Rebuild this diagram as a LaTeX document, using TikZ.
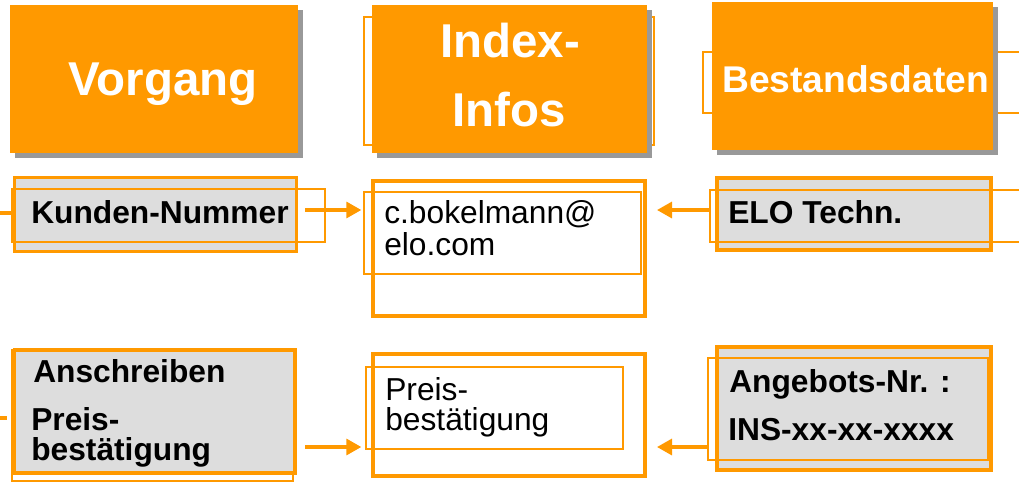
\documentclass[tikz,border=0pt]{standalone}
\usepackage{fontspec}
\setmainfont{Liberation Sans}
\usetikzlibrary{fit,shadows,arrows.meta}
\definecolor{org}{HTML}{FF9900}
\definecolor{boxgray}{HTML}{DDDDDD}
\definecolor{shd}{HTML}{999999}
\begin{document}
\begin{tikzpicture}[x=0.75pt,y=-0.75pt,
  hdr/.style={fill=org, inner sep=0pt, drop shadow={shadow xshift=3.75pt, shadow yshift=-3.75pt, fill=shd, opacity=1}},
  thinbox/.style={draw=org, line width=1pt, inner sep=0pt},
  thickbox/.style={draw=org, line width=2.4pt, inner sep=0pt},
  graybox/.style={thickbox, fill=boxgray},
  hf/.style={inner sep=0pt, anchor=base, text=white, font=\fontsize{35.6}{42}\selectfont\bfseries},
  hfs/.style={inner sep=0pt, anchor=base, text=white, font=\fontsize{27.9}{33}\selectfont\bfseries},
  bt/.style={inner sep=0pt, anchor=base west, font=\fontsize{23.8}{28}\selectfont\bfseries},
  rt/.style={inner sep=0pt, anchor=base west, font=\fontsize{23.8}{28}\selectfont},
  conn/.style={draw=org, line width=2.4pt},
  arr/.style={draw=org, fill=org, line width=2.4pt, -{Triangle[length=11.25pt,width=12pt]}}
]
\useasboundingbox (0,0) rectangle (1019,482);

% ---- headers ----
\node[hdr, fit={(10,5)(298,153)}] (h1) {};
\node[hf] (h1t) at (163,95) {Vorgang};

\node[thinbox, fill=white, fit={(364,17)(654,145)}] (h2o) {};
\node[hdr, fit={(372,5)(647,153)}] (h2) {};
\node[hf] (h2a) at (510,57) {Index-};
\node[hf] (h2b) at (509,126) {Infos};

\node[thinbox, fill=white, fit={(703,52)(1040,113)}] (h3o) {};
\node[hdr, fit={(712,2)(993,150)}] (h3) {};
\node[hfs] (h3t) at (855.5,92) {Bestandsdaten};

% ---- row 1 ----
\node[graybox, fit={(14.5,177.5)(296.5,251.5)}] (kn) {};
\node[thinbox, fit={(12,189)(325,242)}] (kno) {};
\node[bt] (knt) at (31,223) {Kunden-Nummer};

\node[thickbox, fit={(373,181)(645,316)}] (ix1) {};
\node[thinbox, fit={(364,192)(641,274)}] (ix1o) {};
\node[rt] (ix1a) at (384,223) {c.bokelmann@};
\node[rt] (ix1b) at (384,255) {elo.com};

\node[graybox, fit={(717,178)(991,250)}] (elo) {};
\node[thinbox, fit={(710,190)(1040,242)}] (eloo) {};
\node[bt] (elot) at (728,223) {ELO Techn.};

% ---- row 2 ----
\node[thinbox, fit={(12,350)(293,481)}] (ano) {};
\node[graybox, fit={(14.5,350)(295,473)}] (an) {};
\node[bt] (ant1) at (33,382) {Anschreiben};
\node[bt] (ant2) at (31,430) {Preis-};
\node[bt] (ant3) at (31,460) {bestätigung};

\node[thickbox, fit={(373,354)(645,476)}] (ix2) {};
\node[thinbox, fit={(366,367)(623,449)}] (ix2o) {};
\node[rt] (ix2a) at (385,400) {Preis-};
\node[rt] (ix2b) at (385,430) {bestätigung};

\node[graybox, fit={(717,347)(991,470)}] (ag) {};
\node[thinbox, fit={(708,358)(988,460)}] (ago) {};
\node[bt] (agt1) at (729,392) {Angebots-Nr. :};
\node[bt] (agt2) at (728,440) {INS-xx-xx-xxxx};

% ---- connectors ----
\coordinate (l1) at (0,213);
\draw[conn] (l1) -- (l1 -| kno.west);
\coordinate (a1s) at (305,210);
\draw[arr, shorten >=1.5pt] (a1s) -- (a1s -| ix1o.west);
\coordinate (a2e) at (657,210);
\draw[arr] (a2e -| eloo.west) -- (a2e);

\coordinate (l2) at (0,418);
\draw[conn] (l2) -- ([xshift=-3pt]l2 -| ano.west);
\coordinate (a3s) at (305,447);
\draw[arr, shorten >=3pt] (a3s) -- (a3s -| ix2o.west);
\coordinate (a4e) at (657,447);
\draw[arr] (a4e -| ago.west) -- (a4e);
\end{tikzpicture}
\end{document}
